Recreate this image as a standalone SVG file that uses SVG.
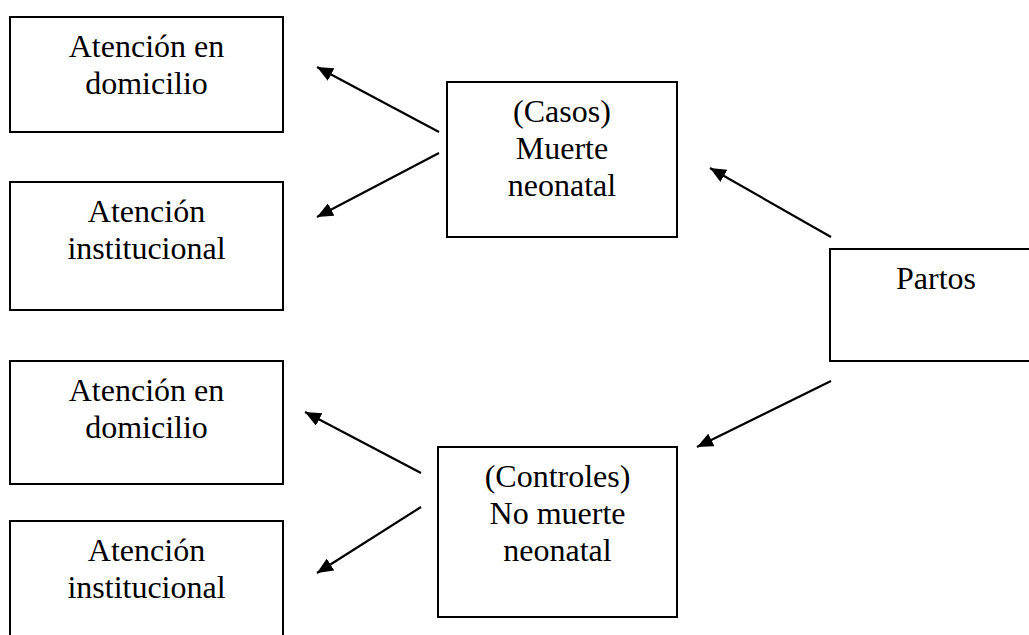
<svg xmlns="http://www.w3.org/2000/svg" width="1029" height="635" viewBox="0 0 1029 635">
<style>
.box{fill:#fff;stroke:#000;stroke-width:2}
.t{font-family:"Liberation Serif","Times New Roman",serif;font-size:32px;fill:#000;text-anchor:middle}
.c{stroke:#000;stroke-width:2.2;fill:none;marker-end:url(#ah)}
</style>
<defs>
<marker id="ah" markerUnits="userSpaceOnUse" markerWidth="18" markerHeight="14" refX="16" refY="7" orient="auto">
<path d="M0,0 L16,7 L0,14 z" fill="#000"/>
</marker>
</defs>
<rect width="1029" height="635" fill="#fff"/>
<g id="n1"><rect class="box" x="10" y="17" width="273" height="115"/><text class="t" x="146.5" y="57">Atención en</text><text class="t" x="146.5" y="94">domicilio</text></g>
<g id="n2"><rect class="box" x="10" y="182" width="273" height="128"/><text class="t" x="146.5" y="222">Atención</text><text class="t" x="146.5" y="259">institucional</text></g>
<g id="n3"><rect class="box" x="10" y="361" width="273" height="123"/><text class="t" x="146.5" y="401">Atención en</text><text class="t" x="146.5" y="438">domicilio</text></g>
<g id="n4"><rect class="box" x="10" y="521" width="273" height="130"/><text class="t" x="146.5" y="561">Atención</text><text class="t" x="146.5" y="598">institucional</text></g>
<g id="casos"><rect class="box" x="447" y="82" width="230" height="155"/><text class="t" x="562" y="122">(Casos)</text><text class="t" x="562" y="159">Muerte</text><text class="t" x="562" y="196">neonatal</text></g>
<g id="controles"><rect class="box" x="438" y="447" width="239" height="170"/><text class="t" x="557.5" y="487">(Controles)</text><text class="t" x="557.5" y="524">No muerte</text><text class="t" x="557.5" y="561">neonatal</text></g>
<g id="partos"><rect class="box" x="830" y="249" width="212" height="112"/><text class="t" x="936" y="289">Partos</text></g>
<g id="connectors">
<line class="c" x1="439" y1="132" x2="317" y2="67"/>
<line class="c" x1="439" y1="153" x2="317" y2="217"/>
<line class="c" x1="421" y1="473" x2="305" y2="412"/>
<line class="c" x1="421" y1="507" x2="317" y2="573"/>
<line class="c" x1="831" y1="237" x2="710" y2="168"/>
<line class="c" x1="831" y1="381" x2="697" y2="447"/>
</g>
</svg>
